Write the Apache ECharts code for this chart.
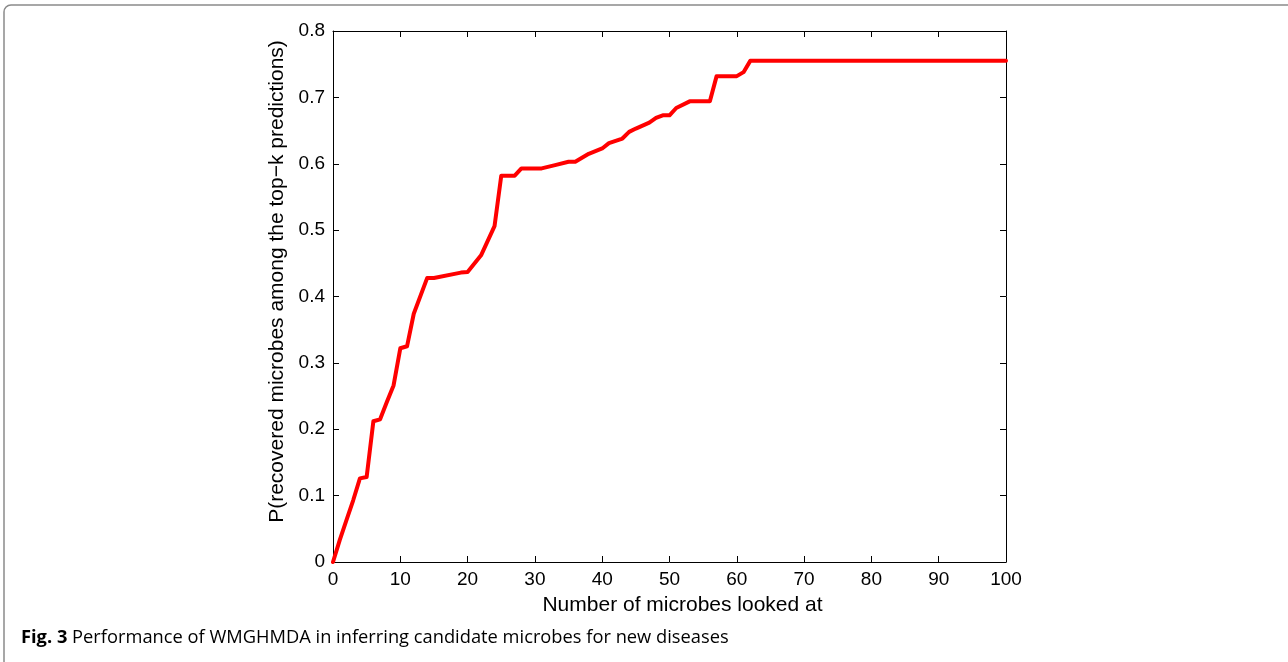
<!DOCTYPE html>
<html lang="en">
<head>
    <meta charset="UTF-8">
    <title>WMGHMDA top-k</title>
    <script src="https://cdn.jsdelivr.net/npm/echarts@6/dist/echarts.min.js"></script>
    <style>
        * {
            margin: 0;
            padding: 0
        }

        html, body {
            width: 100%;
            height: 100%;
            background: #fff;
        }
    </style>
</head>
<body>
<div id="main" style="width: 1288px;height:662px;"></div>
<script type="text/javascript">
    // data: number of microbes looked at (k) -> P
    var kValues = [0, 1, 2, 3, 4, 5, 6, 7, 8, 9, 10, 11, 12, 14, 15, 19, 20, 22, 24, 25, 27, 28, 31, 33, 35, 36,
        38, 40, 41, 43, 44, 45, 47, 48, 49, 50, 51, 53, 56, 57, 60, 61, 62, 100];
    var pValues = [0, 0.033, 0.063, 0.093, 0.126, 0.128, 0.212, 0.215, 0.241, 0.266, 0.322, 0.325, 0.374, 0.428,
        0.428, 0.436, 0.437, 0.462, 0.506, 0.582, 0.582, 0.593, 0.593, 0.598, 0.603, 0.603,
        0.615, 0.623, 0.631, 0.638, 0.648, 0.653, 0.662, 0.669, 0.673, 0.673, 0.684, 0.694, 0.694, 0.732, 0.732,
        0.738, 0.755, 0.755];

    var xTicks = [0, 100, 10];      // min, max, interval
    var yTicks = [0, 0.8, 0.1];

    var xName = 'Number of microbes looked at';
    var yName = 'P(recovered microbes among the top\u2212k predictions)';
    var captionBold = 'Fig. 3';
    var captionText = 'Performance of WMGHMDA in inferring candidate microbes for new diseases';

    var points = [];
    for (var i = 0; i < kValues.length; i++) {
        points.push([kValues[i], pValues[i]]);
    }

    var font = 'Liberation Sans, Arial, Helvetica, sans-serif';
    var capFont = 'Open Sans, Noto Sans, sans-serif';
    var myChart = echarts.init(document.getElementById('main'));

    // axis with inward ticks, matlab style
    function axisBase(minMax, show) {
        return {
            type: 'value',
            min: minMax[0],
            max: minMax[1],
            interval: minMax[2],
            axisLine: {show: true, onZero: false, lineStyle: {color: '#000', width: 1}},
            axisTick: {show: true, inside: true, length: 6, lineStyle: {color: '#000', width: 1}},
            splitLine: {show: false},
            axisLabel: {show: show, color: '#000', fontSize: 19, fontFamily: font, margin: 8}
        };
    }

    var xBottom = axisBase(xTicks, true);
    xBottom.position = 'bottom';
    xBottom.name = xName;
    xBottom.nameLocation = 'middle';
    xBottom.nameGap = 33;
    xBottom.nameTextStyle = {color: '#000', fontSize: 21, fontFamily: font, padding: [0, 0, 0, 26]};
    var xTop = axisBase(xTicks, false);
    xTop.position = 'top';

    var yLeft = axisBase(yTicks, true);
    yLeft.position = 'left';
    yLeft.name = yName;
    yLeft.nameLocation = 'middle';
    yLeft.nameGap = 42;
    yLeft.nameTextStyle = {color: '#000', fontSize: 21, fontFamily: font, padding: [0, 0, 0, 30]};
    yLeft.axisLabel.formatter = function (v) {
        return v === 0 ? '0' : v.toFixed(1);
    };
    var yRight = axisBase(yTicks, false);
    yRight.position = 'right';

    var option = {
        animation: false,
        backgroundColor: '#fff',
        grid: {left: 333, right: 282, top: 31, bottom: 100, containLabel: false},
        xAxis: [xBottom, xTop],
        yAxis: [yLeft, yRight],
        series: [{
            type: 'line',
            xAxisIndex: 0,
            yAxisIndex: 0,
            data: points,
            showSymbol: false,
            lineStyle: {color: '#ff0000', width: 4, join: 'round', cap: 'round'},
            clip: false
        }],
        graphic: [
            {
                type: 'rect',
                shape: {x: 4, y: 5, width: 1320, height: 720, r: 7},
                style: {fill: 'none', stroke: '#8a8a8a', lineWidth: 1.5},
                z: 0
            },
            {
                type: 'text',
                left: 21,
                top: 629,
                style: {
                    text: '{b|' + captionBold + '} ' + captionText,
                    rich: {
                        b: {fontWeight: 'bold', fontSize: 18.3, fontFamily: capFont, fill: '#000'}
                    },
                    fontSize: 18.3,
                    fontFamily: capFont,
                    fill: '#000'
                }
            }
        ]
    };

    myChart.setOption(option);
</script>
</body>
</html>
